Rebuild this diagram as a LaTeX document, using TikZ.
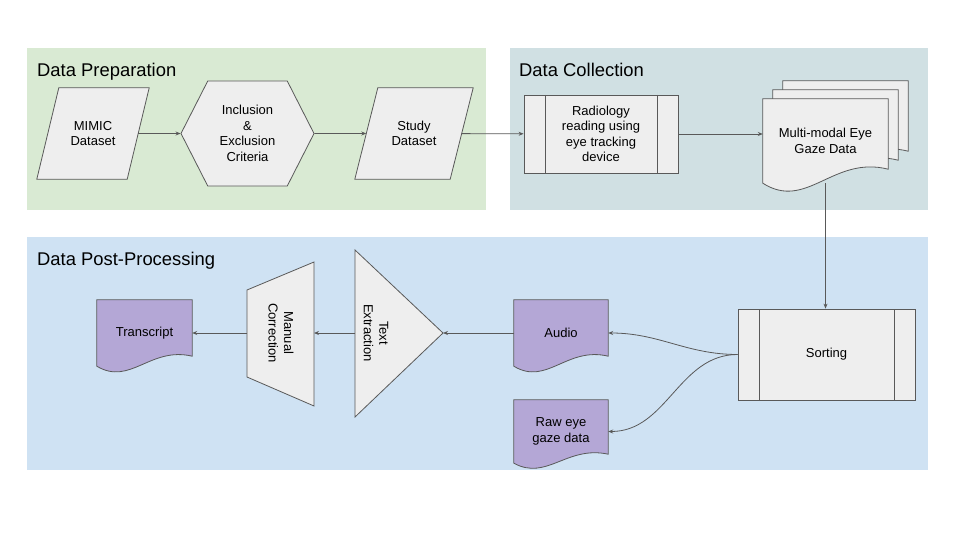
\documentclass[tikz,border=0pt]{standalone}
\usepackage{fontspec}
\setmainfont{Liberation Sans}
\usetikzlibrary{shapes.symbols,calc,arrows.meta}

\definecolor{prepgreen}{HTML}{D9EAD3}
\definecolor{collteal}{HTML}{D0E0E3}
\definecolor{postblue}{HTML}{CFE2F3}
\definecolor{boxgray}{HTML}{EEEEEE}
\definecolor{outputpurple}{HTML}{B4A7D6}
\definecolor{linegray}{HTML}{595959}

\tikzset{
  base/.style={draw=linegray, fill=boxgray, line width=0.8pt, align=center,
    inner sep=0pt, font=\fontsize{13}{15.5}\selectfont},
  hexa/.style={base, signal, signal to=west and east, signal pointer angle=126,
    minimum width=133, minimum height=105},
  process/.style={base, rectangle, path picture={
    \draw[linegray, line width=0.8pt]
      ([xshift=21pt]path picture bounding box.north west) -- ([xshift=21pt]path picture bounding box.south west)
      ([xshift=-21pt]path picture bounding box.north east) -- ([xshift=-21pt]path picture bounding box.south east);}},
  doc/.style={rectangle, inner sep=0pt, align=center, font=\fontsize{13}{15.5}\selectfont},
  title/.style={anchor=base west, inner sep=0pt, font=\fontsize{18.4}{22}\selectfont},
  label/.style={align=center, inner sep=0pt, rotate=-90, font=\fontsize{13}{15.5}\selectfont},
  outline/.style={draw=linegray, line width=0.8pt},
  flow/.style={draw=linegray, line width=0.8pt, -{Stealth[length=5pt,width=4pt]}},
}

% page with a wavy bottom round a node: [offset]{node}{wave}{fill}
\newcommand{\docshape}[4][0,0]{%
  \filldraw[outline, fill=#4]
    ($(#2.north west)+(#1)$) -- ($(#2.north east)+(#1)$) -- ($(#2.south east)+(0,-#3)+(#1)$)
    .. controls ($(#2.south west)!0.56!(#2.south east)+(0,-2*#3)+(#1)$)
    and ($(#2.south west)!0.35!(#2.south east)+(0,2*#3)+(#1)$)
    .. ($(#2.south west)+(#1)$) -- cycle;}
% slanted box round a node: {node}{slant}
\newcommand{\parashape}[2]{%
  \filldraw[outline, fill=boxgray]
    ($(#1.north west)+(#2,0)$) -- ($(#1.north east)+(#2,0)$)
    -- ($(#1.south east)+(-#2,0)$) -- ($(#1.south west)+(-#2,0)$) -- cycle;}

\begin{document}
\begin{tikzpicture}[x=1pt, y=-1pt]
  \useasboundingbox[fill=white] (0,0) rectangle (960,540);

  \fill[prepgreen] (27,48) rectangle (486,210);
  \fill[collteal] (510,48) rectangle (928,210);
  \fill[postblue] (27,237) rectangle (928,470);

  \node[title] (preptitle) at (37,77) {Data Preparation};
  \node[title] (colltitle) at (519,77) {Data Collection};
  \node[title] (posttitle) at (37,265) {Data Post-Processing};

  \node[doc, minimum width=90, minimum height=91] (mimic) at (93,133.5) {};
  \parashape{mimic}{11}
  \node[doc] at (mimic) {MIMIC\\Dataset};
  \node[hexa] (incl) at (247.5,133.5) {Inclusion\\\&\\Exclusion\\Criteria};
  \node[doc, minimum width=95, minimum height=91] (study) at (414,133.5) {};
  \parashape{study}{11.5}
  \node[doc] at (study) {Study\\Dataset};
  \node[process, minimum width=154, minimum height=78] (radio) at (601,134)
    {Radiology\\reading using\\eye tracking\\device};

  \node[doc, minimum width=125, minimum height=84] (multi) at (825.5,141) {};
  \docshape[20,-18]{multi}{14}{boxgray}
  \docshape[10,-9]{multi}{14}{boxgray}
  \docshape{multi}{14}{boxgray}
  \node[doc] at (multi) {Multi-modal Eye\\Gaze Data};

  \node[process, minimum width=177, minimum height=91] (sorting) at (826.5,354.5) {Sorting};

  \node[doc, minimum width=94, minimum height=66] (audio) at (561,333) {};
  \docshape{audio}{10}{outputpurple}
  \node[doc] at (audio) {Audio};
  \node[doc, minimum width=94, minimum height=63] (raw) at (561,431.5) {};
  \docshape{raw}{9}{outputpurple}
  \node[doc] at (raw) {Raw eye\\gaze data};
  \node[doc, minimum width=95, minimum height=66] (transcript) at (144.5,333) {};
  \docshape{transcript}{10}{outputpurple}
  \node[doc] at (transcript) {Transcript};

  \coordinate (tritip) at (443,333);
  \coordinate (tribase) at (355,333);
  \filldraw[outline, fill=boxgray] (355,250) -- (tritip) -- (355,417) -- cycle;
  \node[label] (textex) at (376,333) {Text\\Extraction};

  \coordinate (trapright) at (314,333);
  \coordinate (trapleft) at (247,333);
  \filldraw[outline, fill=boxgray] (247,290) -- (314,262) -- (314,406) -- (247,377) -- cycle;
  \node[label] (manual) at (281,333) {Manual\\Correction};

  \draw[flow] (mimic) -- (incl);
  \draw[flow] (incl) -- (study);
  \draw[flow] (study) -- (radio);
  \draw[flow] (radio) -- (multi.west |- radio);
  \draw[flow] (multi.south) -- (multi.south |- sorting.north);
  \draw[flow] (sorting.west) to[out=180, in=0] (audio.east);
  \draw[flow] (sorting.west) to[out=180, in=0] (raw.east);
  \draw[flow] (audio.west) -- (tritip);
  \draw[flow] (tribase) -- (trapright);
  \draw[flow] (trapleft) -- (transcript.east);
\end{tikzpicture}
\end{document}
